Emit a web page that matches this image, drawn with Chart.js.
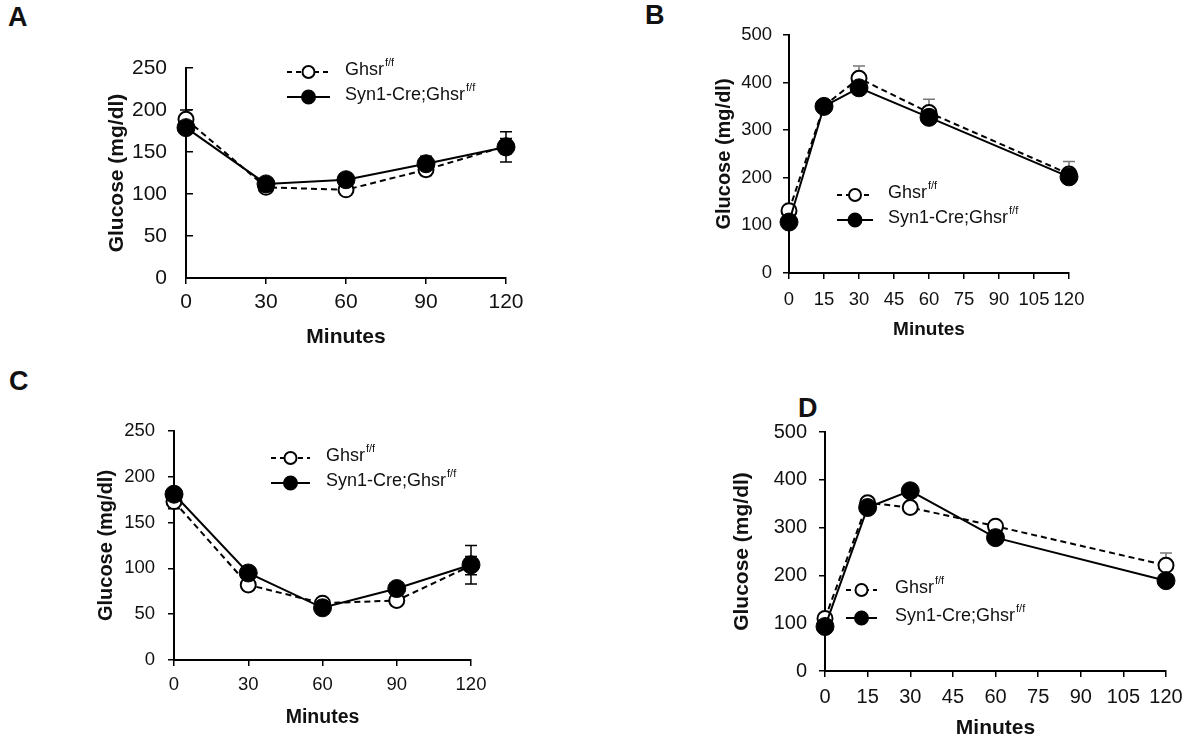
<!DOCTYPE html>
<html>
<head>
<meta charset="utf-8">
<script src="https://cdn.jsdelivr.net/npm/chart.js@4.4.0/dist/chart.umd.min.js"></script>
<style>
  body { margin: 0; background: #fff; width: 1192px; height: 741px; position: relative; overflow: hidden;
         font-family: "Liberation Sans", Arial, sans-serif; }
  canvas { position: absolute; }
  .letter { position: absolute; font-weight: bold; font-size: 27px; line-height: 1; color: #111; }
</style>
</head>
<body>
<div class="letter" style="left:8px;top:4px">A</div>
<div class="letter" style="left:645px;top:2px">B</div>
<div class="letter" style="left:9px;top:368px">C</div>
<div class="letter" style="left:798px;top:395px">D</div>

<canvas id="chartA" width="596" height="370" style="left:0;top:0"></canvas>
<canvas id="chartB" width="596" height="370" style="left:596px;top:0"></canvas>
<canvas id="chartC" width="596" height="371" style="left:0;top:370px"></canvas>
<canvas id="chartD" width="596" height="371" style="left:596px;top:370px"></canvas>

<script>
// ─── DATA ─────────────────────────────────────────────────────
const minutesITT = [0, 30, 60, 90, 120];
const minutesGTT = [0, 15, 30, 60, 120];
const seriesNames = ['Ghsr', 'Syn1-Cre;Ghsr'];
const supText = 'f/f';

// A
const aCtrl = [189, 108, 105, 129, 157];
const aCtrlSem = [11, 5, 5, 7, 9];
const aKO = [179, 112, 117, 136, 156];
const aKOSem = [8, 5, 5, 9, 18];
// B
const bCtrl = [131, 351, 409, 337, 208];
const bCtrlSem = [10, 8, 26, 28, 26];
const bKO = [107, 350, 389, 327, 202];
const bKOSem = [8, 8, 10, 9, 10];
// C
const cCtrl = [173, 82, 62, 65, 103];
const cCtrlSem = [8, 5, 5, 5, 10];
const cKO = [181, 95, 57, 78, 104];
const cKOSem = [6, 6, 5, 6, 21];
// D
const dCtrl = [110, 352, 342, 303, 221];
const dCtrlSem = [8, 8, 8, 8, 26];
const dKO = [93, 342, 377, 279, 189];
const dKOSem = [6, 6, 10, 8, 8];

const FONT = '"Liberation Sans", Arial, sans-serif';

// ─── PLUGINS ──────────────────────────────────────────────────
const errorBars = {
  id: 'errorBars',
  beforeDatasetsDraw(chart) {
    const ctx = chart.ctx, ys = chart.scales.y;
    chart.data.datasets.forEach((ds, i) => {
      const meta = chart.getDatasetMeta(i);
      ctx.save();
      ctx.strokeStyle = ds.errColor;
      ctx.lineWidth = 1.5;
      meta.data.forEach((pt, j) => {
        const v = ds.data[j].y, e = ds.sem[j];
        const top = ys.getPixelForValue(v + e);
        const bot = ds.upOnly ? pt.y : ys.getPixelForValue(v - e);
        ctx.beginPath();
        ctx.moveTo(pt.x, top); ctx.lineTo(pt.x, bot);
        ctx.moveTo(pt.x - 6, top); ctx.lineTo(pt.x + 6, top);
        if (!ds.upOnly) { ctx.moveTo(pt.x - 6, bot); ctx.lineTo(pt.x + 6, bot); }
        ctx.stroke();
      });
      ctx.restore();
    });
  }
};

const sketchLegend = {
  id: 'sketchLegend',
  afterDraw(chart, args, o) {
    const ctx = chart.ctx;
    const rows = [
      { dash: [5, 4], fill: '#fff', r: 6, y: o.y1 },
      { dash: [], fill: '#000', r: 6.5, y: o.y2 }
    ];
    rows.forEach((row, k) => {
      ctx.save();
      ctx.strokeStyle = '#000';
      ctx.lineWidth = 2;
      ctx.setLineDash(row.dash);
      ctx.beginPath(); ctx.moveTo(o.x1, row.y); ctx.lineTo(o.x2, row.y); ctx.stroke();
      ctx.setLineDash([]);
      ctx.beginPath(); ctx.arc((o.x1 + o.x2) / 2, row.y, row.r, 0, Math.PI * 2);
      ctx.fillStyle = row.fill; ctx.fill(); ctx.stroke();
      ctx.fillStyle = '#111';
      ctx.textBaseline = 'middle';
      ctx.textAlign = 'left';
      ctx.font = '18px ' + FONT;
      ctx.fillText(seriesNames[k], o.textX, row.y - 2);
      const w = ctx.measureText(seriesNames[k]).width;
      ctx.font = '11px ' + FONT;
      ctx.fillText(supText, o.textX + w + 1, row.y - 9);
      ctx.restore();
    });
  }
};

// ─── PANEL BUILDER ────────────────────────────────────────────
function makePanel(id, p) {
  const cv = document.getElementById(id);
  const W = cv.width, H = cv.height;
  const padL = p.yTitleX - p.yTitleSize * 0.6;
  const yW = p.area.l - padL;
  const padB = Math.max(0, H - p.xTitleY - p.xTitleSize * 0.6);
  const xH = H - p.area.b - padB;
  const f = (s, b) => ({ family: FONT, size: s, weight: b ? 'bold' : 'normal' });
  const pts = arr => p.x.map((m, i) => ({ x: m, y: arr[i] }));

  return new Chart(cv, {
    type: 'line',
    data: {
      datasets: [
        { label: 'Syn1-Cre;Ghsr f/f', data: pts(p.ko), sem: p.koSem, errColor: '#000',
          borderColor: '#000', borderWidth: 2, tension: 0, clip: false, order: 0,
          pointRadius: 9, pointBackgroundColor: '#000', pointBorderColor: '#000', pointBorderWidth: 1 },
        { label: 'Ghsr f/f', data: pts(p.ctrl), sem: p.ctrlSem, errColor: p.ctrlErr, upOnly: p.upOnly,
          borderColor: '#000', borderWidth: 2, borderDash: [6, 4], tension: 0, clip: false, order: 1,
          pointRadius: 7.5, pointBackgroundColor: '#fff', pointBorderColor: '#000', pointBorderWidth: 2 }
      ]
    },
    options: {
      responsive: false, animation: false,
      layout: { padding: { left: padL, right: W - p.area.r, top: p.area.t, bottom: padB } },
      plugins: { legend: { display: false }, tooltip: { enabled: false }, sketchLegend: p.legend },
      scales: {
        x: {
          type: 'linear', min: 0, max: 120,
          ticks: { stepSize: p.step, font: f(p.tickSize), color: '#111', padding: p.xPad, maxRotation: 0, autoSkip: false },
          grid: { drawOnChartArea: false, color: '#000', lineWidth: 1.5, tickLength: 6 },
          border: { color: '#000', width: 2 },
          title: { display: true, text: 'Minutes', font: f(p.xTitleSize, true), color: '#111', padding: 0 },
          afterFit: s => { s.height = xH; }
        },
        y: {
          min: 0, max: p.yMax,
          ticks: { stepSize: p.yStep, font: f(p.tickSize), color: '#111', padding: p.yPad },
          grid: { drawOnChartArea: false, color: '#000', lineWidth: 1.5, tickLength: p.yTick },
          border: { color: '#000', width: 2 },
          title: { display: true, text: 'Glucose (mg/dl)', font: f(p.yTitleSize, true), color: '#111', padding: 0 },
          afterFit: s => { s.width = yW; }
        }
      }
    },
    plugins: [errorBars, sketchLegend]
  });
}

makePanel('chartA', {
  x: minutesITT, ctrl: aCtrl, ctrlSem: aCtrlSem, ko: aKO, koSem: aKOSem, ctrlErr: '#000', upOnly: false,
  area: { l: 186, r: 506, t: 68, b: 278 }, yTitleX: 117, xTitleY: 337,
  tickSize: 21, yTitleSize: 21, xTitleSize: 21, step: 30, yMax: 250, yStep: 50,
  yTick: -7, yPad: 26, xPad: 6,
  legend: { x1: 287, x2: 330, y1: 72, y2: 97, textX: 345 }
});

makePanel('chartB', {
  x: minutesGTT, ctrl: bCtrl, ctrlSem: bCtrlSem, ko: bKO, koSem: bKOSem, ctrlErr: '#777', upOnly: true,
  area: { l: 193, r: 473, t: 35, b: 273 }, yTitleX: 128, xTitleY: 330,
  tickSize: 18.5, yTitleSize: 20, xTitleSize: 19, step: 15, yMax: 500, yStep: 100,
  yTick: 6, yPad: 11, xPad: 10,
  legend: { x1: 241, x2: 277, y1: 195, y2: 220, textX: 292 }
});

makePanel('chartC', {
  x: minutesITT, ctrl: cCtrl, ctrlSem: cCtrlSem, ko: cKO, koSem: cKOSem, ctrlErr: '#000', upOnly: false,
  area: { l: 174, r: 471, t: 61, b: 290 }, yTitleX: 106, xTitleY: 348,
  tickSize: 18.5, yTitleSize: 20, xTitleSize: 19.5, step: 30, yMax: 250, yStep: 50,
  yTick: 6, yPad: 13, xPad: 8,
  legend: { x1: 271, x2: 310, y1: 88, y2: 113, textX: 326 }
});

makePanel('chartD', {
  x: minutesGTT, ctrl: dCtrl, ctrlSem: dCtrlSem, ko: dKO, koSem: dKOSem, ctrlErr: '#777', upOnly: true,
  area: { l: 229, r: 570, t: 62, b: 301 }, yTitleX: 146, xTitleY: 358,
  tickSize: 20, yTitleSize: 21, xTitleSize: 21, step: 15, yMax: 500, yStep: 100,
  yTick: 6, yPad: 12, xPad: 8,
  legend: { x1: 250, x2: 281, y1: 220, y2: 248, textX: 299 }
});
</script>
</body>
</html>
